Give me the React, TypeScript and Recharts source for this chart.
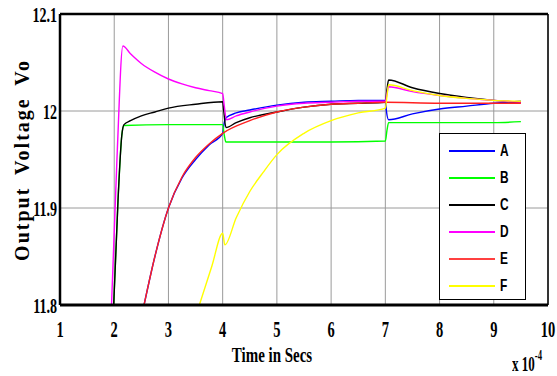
import React from 'react'
import { LineChart, Line, CartesianGrid, XAxis, YAxis, ReferenceLine } from 'recharts'

// tick labels
const xTicks = [1, 2, 3, 4, 5, 6, 7, 8, 9, 10]
const yTicks = [11.8, 11.9, 12.0, 12.1]
const yTickLabels = ['11.8', '11.9', '12', '12.1']

// series (time x 1e-4 s, volts)
const aTime = [2.55, 2.75, 3.0, 3.25, 3.5, 3.75, 4.0, 4.02, 4.06, 4.25, 4.5, 5.0, 5.5, 6.0, 6.5, 7.0, 7.02, 7.06, 7.5, 8.0, 8.5, 9.0, 9.5]
const aVolt = [11.8, 11.85, 11.9, 11.931, 11.95, 11.965, 11.977, 11.985, 11.993, 11.998, 12.001, 12.006, 12.009, 12.01, 12.011, 12.011, 12.0, 11.991, 11.997, 12.002, 12.005, 12.008, 12.01]

const bTime = [1.99, 2.07, 2.14, 2.18, 3.0, 4.0, 4.03, 4.06, 5.0, 6.0, 7.0, 7.03, 7.06, 8.0, 9.0, 9.5]
const bVolt = [11.8, 11.908, 11.975, 11.985, 11.986, 11.986, 11.975, 11.968, 11.968, 11.968, 11.969, 11.98, 11.988, 11.988, 11.988, 11.989]

const cTime = [1.99, 2.07, 2.14, 2.18, 2.3, 2.5, 2.75, 3.0, 3.5, 4.0, 4.02, 4.06, 4.25, 4.5, 5.0, 5.5, 6.0, 6.5, 7.0, 7.03, 7.06, 7.5, 8.0, 8.5, 9.0, 9.5]
const cVolt = [11.8, 11.908, 11.975, 11.986, 11.99, 11.995, 11.999, 12.003, 12.007, 12.0096, 12.0, 11.983, 11.988, 11.993, 11.999, 12.004, 12.007, 12.008, 12.009, 12.022, 12.032, 12.024, 12.018, 12.014, 12.011, 12.009]

const dTime = [1.95, 2.05, 2.16, 2.3, 2.5, 2.75, 3.0, 3.25, 3.5, 3.75, 4.0, 4.03, 4.07, 4.25, 4.5, 5.0, 5.5, 6.0, 6.5, 7.0, 7.03, 7.06, 7.5, 8.0, 8.5, 9.0, 9.5]
const dVolt = [11.8, 11.95, 12.067, 12.059, 12.049, 12.04, 12.033, 12.028, 12.024, 12.021, 12.018, 12.005, 11.991, 11.995, 11.999, 12.005, 12.008, 12.009, 12.01, 12.01, 12.018, 12.025, 12.02, 12.016, 12.013, 12.011, 12.009]

const eTime = [2.55, 2.75, 3.0, 3.25, 3.5, 3.75, 4.0, 4.5, 5.0, 5.5, 6.0, 6.5, 7.0, 8.0, 9.0, 9.5]
const eVolt = [11.8, 11.85, 11.9, 11.932, 11.952, 11.966, 11.977, 11.99, 11.999, 12.004, 12.007, 12.008, 12.009, 12.008, 12.008, 12.008]

const fTime = [3.57, 3.8, 4.0, 4.04, 4.25, 4.5, 4.75, 5.0, 5.5, 6.0, 6.5, 7.0, 7.03, 7.06, 7.5, 8.0, 8.5, 9.0, 9.5]
const fVolt = [11.8, 11.84, 11.874, 11.862, 11.89, 11.917, 11.937, 11.955, 11.977, 11.99, 11.998, 12.003, 12.015, 12.027, 12.021, 12.016, 12.013, 12.011, 12.01]

const names = ['A', 'B', 'C', 'D', 'E', 'F']
const colors = ['#0000ff', '#00ff00', '#000000', '#ff00ff', '#ff2020', '#ffff00']
const legendColors = ['#0000ff', '#00ff00', '#000000', '#ff00ff', '#ff4040', '#ffff00']

const toPoints = (t: number[], v: number[]) => t.map((x, i) => ({ t: x, v: v[i] }))
const seriesData = [
    toPoints(aTime, aVolt),
    toPoints(bTime, bVolt),
    toPoints(cTime, cVolt),
    toPoints(dTime, dVolt),
    toPoints(eTime, eVolt),
    toPoints(fTime, fVolt),
]

const serif = '"Liberation Serif", "Times New Roman", serif'

const XTick = (props: any) => {
    const { x, y, payload } = props
    return (
        <g transform={`translate(${x},${y})`}>
            <text transform="scale(0.63,1)" textAnchor="middle" dy="0.71em"
                fontFamily={serif} fontWeight="bold" fontSize={23} fill="#000">
                {payload.value}
            </text>
        </g>
    )
}

const YTick = (props: any) => {
    const { x, y, payload } = props
    const idx = yTicks.findIndex(v => Math.abs(v - payload.value) < 1e-6)
    return (
        <g transform={`translate(${x},${y})`}>
            <text transform="scale(0.64,1)" textAnchor="end" dy="0.36em"
                fontFamily={serif} fontWeight="bold" fontSize={22} fill="#000">
                {idx >= 0 ? yTickLabels[idx] : payload.value}
            </text>
        </g>
    )
}

export default function App() {
    return (
        <div style={{ position: 'absolute', left: 0, top: 0, width: 557, height: 376, background: '#fff', overflow: 'hidden' }}>
            <LineChart width={557} height={376} margin={{ top: 14, right: 9, bottom: 0, left: 0 }}>
                <CartesianGrid stroke="#9a9a9a" strokeWidth={1} />
                <XAxis dataKey="t" type="number" domain={[1, 10]} ticks={xTicks} allowDataOverflow
                    height={71} tickSize={0} tickMargin={16} tick={<XTick />}
                    axisLine={{ stroke: '#000', strokeWidth: 3 }} />
                <YAxis type="number" domain={[11.8, 12.1]} ticks={yTicks} allowDataOverflow
                    width={60} tickSize={0} tickMargin={3} tick={<YTick />}
                    axisLine={{ stroke: '#000', strokeWidth: 2.5 }} />
                <ReferenceLine y={12.1} stroke="#000" strokeWidth={2.5} />
                <ReferenceLine x={10} stroke="#000" strokeWidth={1.5} />
                {seriesData.map((d, i) => (
                    <Line key={names[i]} data={d} dataKey="v" name={names[i]} type="monotone"
                        stroke={colors[i]} strokeWidth={1.4} dot={false} isAnimationActive={false} />
                ))}
            </LineChart>

            {/* y label */}
            <div style={{
                position: 'absolute', left: 22, top: 160, transform: 'translate(-50%,-50%) rotate(-90deg)',
                whiteSpace: 'nowrap', fontFamily: serif, fontWeight: 'bold', fontSize: 20,
                letterSpacing: 2, wordSpacing: 5, lineHeight: 1,
            }}>Output Voltage Vo</div>

            {/* x label */}
            <div style={{
                position: 'absolute', left: 272, top: 355, transform: 'translate(-50%,-50%) scaleX(0.68)',
                whiteSpace: 'nowrap', fontFamily: serif, fontWeight: 'bold', fontSize: 22, lineHeight: 1,
            }}>Time in Secs</div>

            <div style={{
                position: 'absolute', left: 512, top: 354, whiteSpace: 'nowrap', fontFamily: serif,
                fontWeight: 'bold', fontSize: 21, lineHeight: 1, transform: 'scaleX(0.62)', transformOrigin: 'left center',
            }}>x 10<sup style={{ fontSize: 14, position: 'relative', top: -5, verticalAlign: 'top' }}>-4</sup></div>

            {/* legend */}
            <div style={{
                position: 'absolute', left: 439, top: 133, width: 87, height: 167, boxSizing: 'border-box',
                border: '1.5px solid #000', background: '#fff',
            }}>
                {names.map((n, i) => (
                    <div key={n} style={{ position: 'absolute', left: 9, top: 8 + i * 27, height: 16, width: 75 }}>
                        <div style={{ position: 'absolute', left: 0, top: 8, width: 46, height: 1.5, background: legendColors[i] }} />
                        <span style={{
                            position: 'absolute', left: 51, top: 0, fontFamily: '"Liberation Sans", Arial, sans-serif',
                            fontWeight: 'bold', fontSize: 17, lineHeight: '17px', display: 'inline-block',
                            transform: 'scaleX(0.7)', transformOrigin: 'left center',
                        }}>{n}</span>
                    </div>
                ))}
            </div>
        </div>
    )
}
